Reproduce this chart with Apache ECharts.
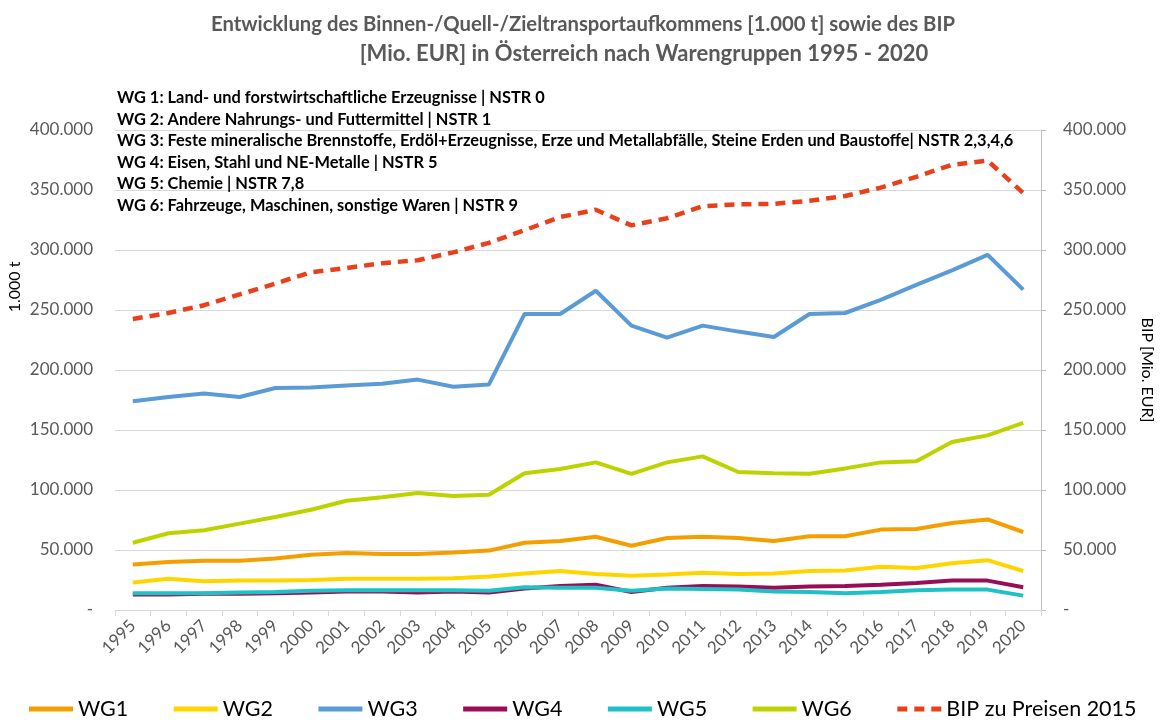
<!DOCTYPE html>
<html>
<head>
<meta charset="utf-8">
<script src="https://cdn.jsdelivr.net/npm/echarts@6/dist/echarts.min.js"></script>
<style>
  html, body { margin: 0; padding: 0; background: #fff; }
  #chart { width: 1163px; height: 727px; }
</style>
</head>
<body>
<div id="chart"></div>
<script>
// Jahre (Kategorien)
const years = ["1995", "1996", "1997", "1998", "1999", "2000", "2001", "2002", "2003", "2004",
  "2005", "2006", "2007", "2008", "2009", "2010", "2011", "2012", "2013", "2014",
  "2015", "2016", "2017", "2018", "2019", "2020"];

// Werte in 1.000 t
const wg1 = [38000, 40000, 41000, 41000, 43000, 46000, 47500, 46700, 46700, 48000,
  49500, 56000, 57500, 61000, 53500, 60000, 61000, 60000, 57500, 61500,
  61500, 67000, 67500, 72500, 75500, 65000];
const wg2 = [23000, 26000, 24000, 24500, 24500, 25000, 26000, 26000, 26000, 26500,
  28000, 30500, 32500, 30000, 28500, 29500, 31000, 30000, 30500, 32500,
  33000, 36000, 35000, 39000, 41500, 32500];
const wg3 = [174000, 177500, 180500, 177500, 185000, 185500, 187000, 188500, 192000, 186000,
  188000, 246700, 246700, 266000, 237000, 227000, 237000, 232000, 227500, 246700,
  247500, 258500, 271000, 283000, 296000, 267000];
const wg4 = [13000, 13000, 13500, 13500, 14000, 14500, 15500, 15500, 14500, 15500,
  14500, 18000, 20000, 21000, 15000, 18500, 20000, 19500, 18500, 19500,
  20000, 21000, 22500, 24500, 24500, 19000];
const wg5 = [14000, 14000, 14000, 14500, 15000, 16000, 16500, 16500, 16500, 16500,
  16000, 19000, 18500, 18500, 16000, 18000, 17500, 17000, 15500, 15000,
  14000, 15000, 16500, 17000, 17000, 12000];
const wg6 = [56000, 64000, 66500, 72000, 77500, 83500, 91000, 94000, 97500, 95000,
  96000, 114000, 117500, 123000, 113500, 123000, 128000, 115000, 114000, 113500,
  118000, 123000, 124000, 140000, 145500, 156000];
// BIP in Mio. EUR (rechte Achse)
const bip = [242500, 247500, 254000, 263000, 272000, 281500, 285000, 289000, 291500, 298000,
  306000, 316500, 327500, 333500, 320500, 326500, 336500, 338000, 338500, 341000,
  345000, 352000, 361000, 371000, 374500, 347500];

const notes = [
  "WG 1: Land- und forstwirtschaftliche Erzeugnisse | NSTR 0",
  "WG 2: Andere Nahrungs- und Futtermittel | NSTR 1",
  "WG 3: Feste mineralische Brennstoffe, Erdöl+Erzeugnisse, Erze und Metallabfälle, Steine Erden und Baustoffe| NSTR 2,3,4,6",
  "WG 4: Eisen, Stahl und NE-Metalle | NSTR 5",
  "WG 5: Chemie | NSTR 7,8",
  "WG 6: Fahrzeuge, Maschinen, sonstige Waren | NSTR 9"
];

const FONT = "Lato, 'Open Sans', sans-serif";
const GREY = "#595959";

const fmt = (v) => {
  if (v === 0) return "-";
  return String(v).replace(/\B(?=(\d{3})+(?!\d))/g, ".");
};

const chart = echarts.init(document.getElementById("chart"));

const lineSeries = (name, data, color, axis) => ({
  name,
  type: "line",
  yAxisIndex: axis || 0,
  data,
  symbol: "none",
  lineStyle: { color, width: 4 },
  itemStyle: { color },
  z: 3,
});

const yAxisBase = {
  type: "value",
  min: 0,
  max: 400000,
  interval: 50000,
  axisLabel: { color: GREY, fontSize: 17, fontFamily: FONT, formatter: fmt, margin: 22 },
};

chart.setOption({
  animation: false,
  backgroundColor: "#fff",
  title: [{
    text: "Entwicklung des Binnen-/Quell-/Zieltransportaufkommens [1.000 t] sowie des BIP",
    left: 578,
    textAlign: "center",
    top: 9,
    textStyle: { color: GREY, fontSize: 20.3, fontWeight: "bold", fontFamily: FONT },
  }, {
    text: "[Mio. EUR] in Österreich nach Warengruppen 1995 - 2020",
    left: 639,
    textAlign: "center",
    top: 38,
    textStyle: { color: GREY, fontSize: 22, fontWeight: "bold", fontFamily: FONT },
  }],
  graphic: [{
    type: "text",
    left: 117,
    top: 87,
    style: {
      text: notes.join("\n"),
      fill: "#000",
      font: "bold 16.4px " + FONT,
      lineHeight: 21.5,
    },
    z: 10,
  }, {
    type: "text",
    x: 15,
    y: 287,
    rotation: Math.PI / 2,
    style: {
      text: "1.000 t",
      fill: "#000",
      font: "16px " + FONT,
      align: "center",
      verticalAlign: "middle",
    },
  }],
  legend: {
    bottom: 2,
    left: "center",
    padding: [5, 0, 5, 20],
    itemWidth: 44,
    itemHeight: 14,
    itemGap: 43,
    itemStyle: { opacity: 0 },
    lineStyle: { width: 5 },
    textStyle: { color: "#000", fontSize: 21.5, fontFamily: FONT },
    data: ["WG1", "WG2", "WG3", "WG4", "WG5", "WG6", "BIP zu Preisen 2015"],
  },
  grid: { left: 115, right: 111, top: 130, bottom: 117, containLabel: false },
  xAxis: {
    type: "category",
    data: years,
    boundaryGap: true,
    axisLine: { lineStyle: { color: "#d9d9d9", width: 1 } },
    axisTick: { show: true, length: 6, lineStyle: { color: "#d9d9d9" } },
    axisLabel: { color: GREY, fontSize: 17, fontFamily: FONT, rotate: 45, margin: 13, interval: 0 },
  },
  yAxis: [
    Object.assign({}, yAxisBase, {
      position: "left",
      axisLine: { show: false },
      axisTick: { show: false },
      splitLine: { show: true, lineStyle: { color: "#d9d9d9", width: 1 } },
    }),
    Object.assign({}, yAxisBase, {
      position: "right",
      name: "BIP [Mio. EUR]",
      nameLocation: "middle",
      nameRotate: -90,
      nameGap: 98,
      nameTextStyle: { color: "#000", fontSize: 16, fontFamily: FONT },
      axisLine: { show: true, lineStyle: { color: "#bfbfbf" } },
      axisTick: { show: true, length: 5, lineStyle: { color: "#bfbfbf" } },
      splitLine: { show: false },
    }),
  ],
  series: [
    lineSeries("WG1", wg1, "#F59E00"),
    lineSeries("WG2", wg2, "#FFD500"),
    lineSeries("WG3", wg3, "#5B9BD5"),
    lineSeries("WG4", wg4, "#980D55"),
    lineSeries("WG5", wg5, "#1FC0C6"),
    lineSeries("WG6", wg6, "#BDD300"),
    Object.assign(lineSeries("BIP zu Preisen 2015", bip, "#E8401C", 1), {
      lineStyle: { color: "#E8401C", width: 4.5, type: [10, 7] },
    }),
  ],
});
</script>
</body>
</html>
